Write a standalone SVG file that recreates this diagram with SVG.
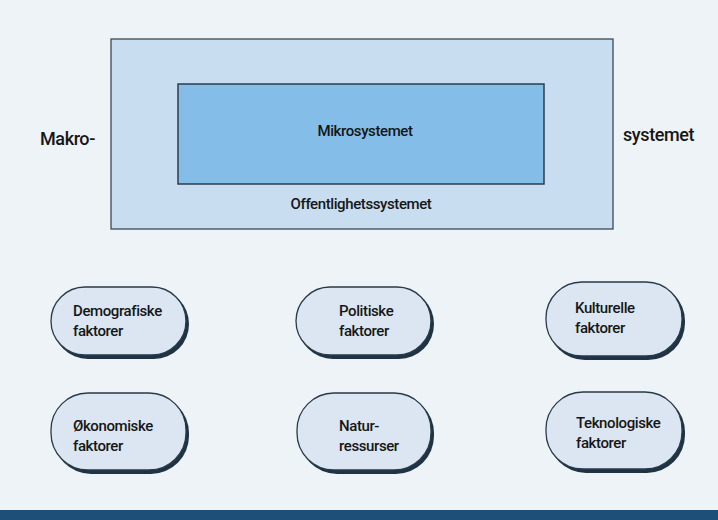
<svg xmlns="http://www.w3.org/2000/svg" width="718" height="520" viewBox="0 0 718 520">
<defs>
<style>
.t{font-family:Roboto,"Noto Sans","Liberation Sans",sans-serif;font-weight:500;font-size:15px;fill:#161616;letter-spacing:-0.4px}
.big{font-size:18px}
.pill{fill:#dbe6f2;stroke:#2a3a48;stroke-width:1.3}
.sh{fill:#1f3344}
</style>
</defs>
<rect x="0" y="0" width="718" height="520" fill="#eef3f7"/>
<rect x="0" y="510" width="718" height="10" fill="#1d4f79"/>
<g id="makro">
<rect x="111" y="39" width="502" height="190" fill="#c9ddf0" stroke="#3a4a58" stroke-width="1.3"/>
<text class="t big" x="40" y="145">Makro-</text>
<text class="t big" x="623" y="141">systemet</text>
<text class="t" x="361" y="209" text-anchor="middle">Offentlighetssystemet</text>
</g>
<g id="mikro">
<rect x="178" y="84" width="366" height="100" fill="#84bde8" stroke="#2d3c4a" stroke-width="1.5"/>
<text class="t" x="365" y="136" text-anchor="middle">Mikrosystemet</text>
</g>
<g id="connectors"></g>
<g id="demografiske">
<rect class="sh" x="53" y="289" width="136" height="70" rx="35"/>
<rect class="pill" x="51" y="287" width="135" height="68" rx="34"/>
<text class="t" x="73" y="316">Demografiske</text>
<text class="t" x="73" y="336">faktorer</text>
</g>
<g id="politiske">
<rect class="sh" x="298" y="289" width="136" height="70" rx="35"/>
<rect class="pill" x="296" y="287" width="135" height="68" rx="34"/>
<text class="t" x="339" y="316">Politiske</text>
<text class="t" x="339" y="336">faktorer</text>
</g>
<g id="kulturelle">
<rect class="sh" x="548" y="284" width="137" height="76" rx="37"/>
<rect class="pill" x="546" y="282" width="136" height="74" rx="36"/>
<text class="t" x="575" y="313">Kulturelle</text>
<text class="t" x="575" y="333">faktorer</text>
</g>
<g id="okonomiske">
<rect class="sh" x="53" y="395" width="136" height="79" rx="38"/>
<rect class="pill" x="51" y="393" width="135" height="77" rx="37"/>
<text class="t" x="73" y="431">Økonomiske</text>
<text class="t" x="73" y="451">faktorer</text>
</g>
<g id="natur">
<rect class="sh" x="299" y="395" width="135" height="79" rx="38"/>
<rect class="pill" x="297" y="393" width="134" height="77" rx="37"/>
<text class="t" x="339" y="431">Natur-</text>
<text class="t" x="339" y="451">ressurser</text>
</g>
<g id="teknologiske">
<rect class="sh" x="548" y="394" width="137" height="79" rx="38"/>
<rect class="pill" x="546" y="392" width="136" height="77" rx="37"/>
<text class="t" x="576" y="428">Teknologiske</text>
<text class="t" x="576" y="448">faktorer</text>
</g>
</svg>
